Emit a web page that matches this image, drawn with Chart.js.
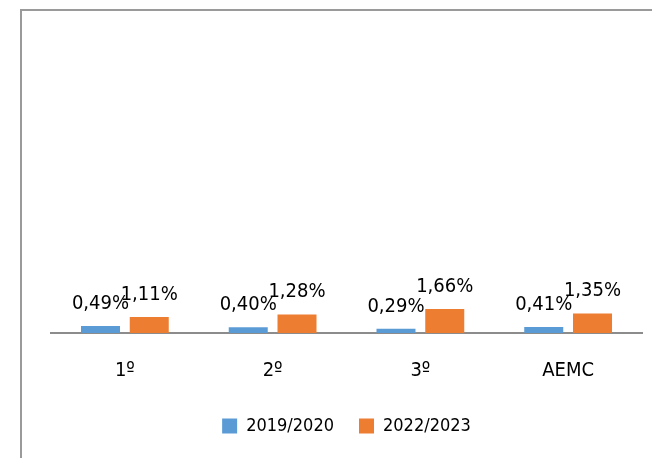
<!DOCTYPE html>
<html>
<head>
<meta charset="utf-8">
<script src="https://cdn.jsdelivr.net/npm/chart.js@4"></script>
<style>
  html, body { margin: 0; padding: 0; background: #fff; overflow: hidden; }
  #wrap { position: relative; width: 652px; height: 458px; }
  #frame { position: absolute; left: 20px; top: 9px; width: 700px; height: 500px;
           border-top: 2px solid #9a9a9a; border-left: 2px solid #9a9a9a; }
  canvas { position: absolute; left: 0; top: 0; }
</style>
</head>
<body>
<div id="wrap">
  <div id="frame"></div>
  <canvas id="grafico" width="652" height="458"></canvas>
</div>
<script>
// categorias y valores (en %)
const categorias = ["1º", "2º", "3º", "AEMC"];
const serie2019 = [0.49, 0.40, 0.29, 0.41];
const serie2022 = [1.11, 1.28, 1.66, 1.35];
const nombres = ["2019/2020", "2022/2023"];

const fuente = "'DejaVu Sans Condensed', 'Liberation Sans Narrow', sans-serif";

// etiquetas encima de cada barra
const etiquetas = {
  id: 'etiquetas',
  afterDatasetsDraw(chart) {
    const ctx = chart.ctx;
    ctx.save();
    ctx.font = "20px " + fuente;
    ctx.fillStyle = "#000";
    ctx.textAlign = "center";
    ctx.textBaseline = "alphabetic";
    chart.data.datasets.forEach((ds, i) => {
      chart.getDatasetMeta(i).data.forEach((bar, j) => {
        const txt = ds.data[j].toFixed(2).replace('.', ',') + '%';
        ctx.fillText(txt, bar.x, bar.y - 17);
      });
    });
    ctx.restore();
  }
};

new Chart(document.getElementById('grafico'), {
  type: 'bar',
  data: {
    labels: categorias,
    datasets: [{
      label: nombres[0],
      data: serie2019,
      backgroundColor: '#5B9BD5',
      categoryPercentage: 0.66,
      barPercentage: 0.8
    }, {
      label: nombres[1],
      data: serie2022,
      backgroundColor: '#ED7D31',
      categoryPercentage: 0.66,
      barPercentage: 0.8
    }]
  },
  options: {
    responsive: false,
    animation: false,
    layout: { padding: { left: 51, right: 10, top: 43, bottom: 13 } },
    scales: {
      x: {
        grid: { display: false },
        border: { display: true, color: '#8c8c8c', width: 2 },
        ticks: { color: '#000', font: { family: fuente, size: 20 }, padding: 18 },
        afterFit(scale) { scale.height -= 9; }
      },
      y: {
        display: false,
        min: 0,
        max: 20
      }
    },
    plugins: {
      tooltip: { enabled: false },
      legend: {
        position: 'bottom',
        labels: {
          color: '#000',
          font: { family: fuente, size: 18 },
          boxWidth: 15,
          boxHeight: 15,
          padding: 25
        }
      }
    }
  },
  plugins: [etiquetas]
});
</script>
</body>
</html>
